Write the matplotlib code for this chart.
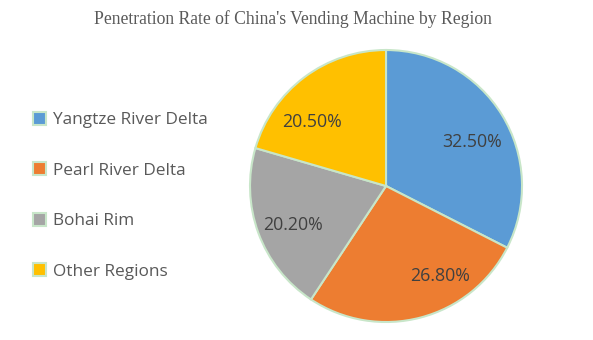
import numpy as np
import matplotlib.pyplot as plt
from matplotlib.patches import Patch

regions = ['Yangtze River Delta', 'Pearl River Delta', 'Bohai Rim', 'Other Regions']
rates = [32.5, 26.8, 20.2, 20.5]
colors = ['#5B9BD5', '#ED7D31', '#A5A5A5', '#FFC000']
edge = '#C8E6C9'

# label placement (radius fraction, angle in degrees) like the original
label_r = [0.71, 0.77, 0.74, 0.72]
label_ang = [27, -59, 202.7, 139]

fig = plt.figure(figsize=(5.93, 3.40), dpi=100)
ax = fig.add_axes([0.4216, 0.0529, 0.4587, 0.8])

wedges, texts, autotexts = ax.pie(
    rates, colors=colors, startangle=90, counterclock=False,
    autopct='%.2f%%', pctdistance=0.72,
    wedgeprops=dict(edgecolor=edge, linewidth=1.5),
    textprops=dict(color='#404040', fontsize=12.8, family='Open Sans'))
for t, r, a in zip(autotexts, label_r, label_ang):
    t.set_position((r * np.cos(np.radians(a)), r * np.sin(np.radians(a))))
ax.set_xlim(-1.0, 1.0)
ax.set_ylim(-1.0, 1.0)
ax.set_aspect('equal')

handles = [Patch(facecolor=c, edgecolor=edge, linewidth=1.5) for c in colors]
fig.legend(handles, regions, loc='upper left', bbox_to_anchor=(0.03, 0.716),
           frameon=False, labelspacing=1.98, handlelength=0.75, handleheight=0.75,
           handletextpad=0.4,
           prop=dict(family='Open Sans', size=12.4), labelcolor='#595959')

fig.text(0.494, 0.945, "Penetration Rate of China's Vending Machine by Region",
         ha='center', va='center', fontsize=12.7, family='Liberation Serif',
         color='#595959')

fig.savefig('out.png', dpi=100)
